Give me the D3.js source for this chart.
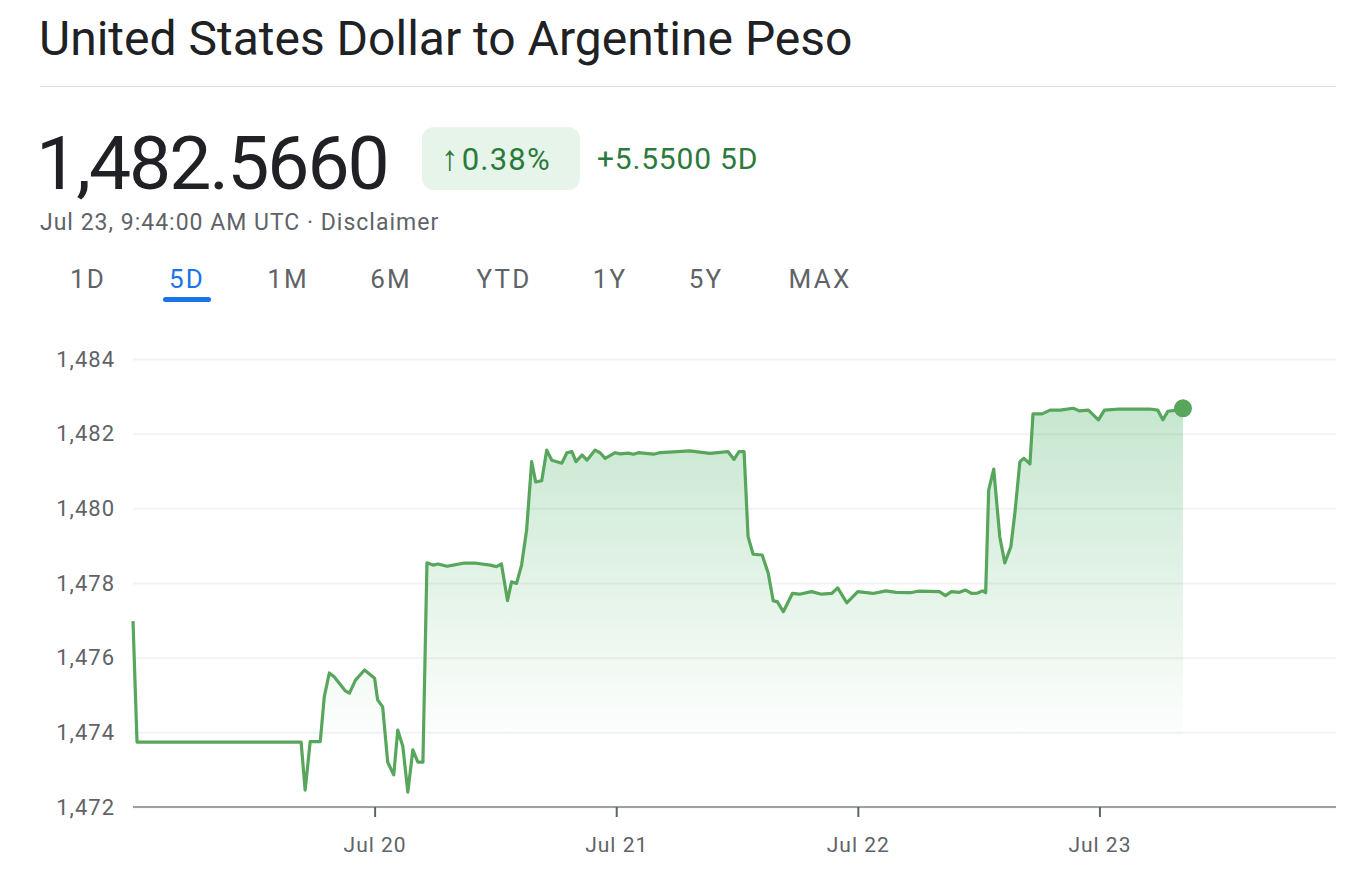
<html>
<head>
<meta charset="utf-8">
<script src="https://d3js.org/d3.v7.min.js"></script>
<style>
  body { margin: 0; background: #fff; font-family: Roboto, "Noto Sans", sans-serif; }
</style>
</head>
<body>
<svg width="1348" height="892"></svg>
<script>
// hours after Jul 19 00:00 UTC
const hours = [0, 0.4, 16.7, 17.1, 17.6, 18.6, 19.0, 19.5, 20.0, 21.1, 21.5, 22.1, 23.0, 24.0, 24.3, 24.8,
  25.3, 25.9, 26.3, 26.8, 27.3, 27.8, 28.3, 28.8, 29.2, 29.8, 30.3, 31.2, 31.8, 32.8, 34.1, 35.5, 36.1,
  36.6, 37.2, 37.6, 38.1, 38.6, 39.1, 39.6, 40.0, 40.6, 41.1, 41.6, 42.6, 43.1, 43.6, 44.0, 44.6, 45.1,
  45.9, 46.4, 46.9, 47.9, 48.4, 49.2, 49.7, 50.2, 51.7, 52.3, 53.7, 55.3, 57.3, 59.1, 59.7, 60.2, 60.7,
  61.1, 61.6, 62.5, 63.1, 63.6, 64.0, 64.6, 65.5, 66.2, 67.4, 68.4, 69.4, 70.0, 70.9, 72.0, 73.5, 74.8,
  75.8, 77.2, 78.0, 80.1, 80.7, 81.3, 82.1, 82.7, 83.3, 83.9, 84.4, 84.7, 85.0, 85.5, 86.1, 86.6, 87.2,
  87.6, 88.1, 88.5, 89.1, 89.4, 90.3, 91.1, 92.1, 93.4, 94.0, 94.9, 95.9, 96.5, 98.0, 99.7, 101.0, 101.8,
  102.3, 102.8, 103.7, 104.3];
const rates = [1476.98, 1473.74, 1473.74, 1472.45, 1473.75, 1473.75, 1474.95, 1475.59, 1475.48, 1475.11,
  1475.05, 1475.40, 1475.67, 1475.45, 1474.87, 1474.68, 1473.20, 1472.86, 1474.06, 1473.63, 1472.40,
  1473.53, 1473.20, 1473.20, 1478.54, 1478.48, 1478.51, 1478.45, 1478.48, 1478.53, 1478.53, 1478.48,
  1478.44, 1478.51, 1477.53, 1478.03, 1477.99, 1478.48, 1479.42, 1481.25, 1480.71, 1480.74, 1481.56,
  1481.29, 1481.21, 1481.49, 1481.52, 1481.25, 1481.43, 1481.29, 1481.56, 1481.49, 1481.34, 1481.49,
  1481.46, 1481.48, 1481.45, 1481.49, 1481.45, 1481.49, 1481.51, 1481.54, 1481.47, 1481.52, 1481.31,
  1481.52, 1481.52, 1479.24, 1478.77, 1478.75, 1478.26, 1477.52, 1477.50, 1477.23, 1477.72, 1477.70,
  1477.77, 1477.70, 1477.72, 1477.87, 1477.47, 1477.77, 1477.72, 1477.79, 1477.75, 1477.74, 1477.78,
  1477.77, 1477.66, 1477.77, 1477.75, 1477.81, 1477.72, 1477.73, 1477.79, 1477.74, 1480.49, 1481.05,
  1479.24, 1478.54, 1478.97, 1479.87, 1481.25, 1481.34, 1481.19, 1482.53, 1482.53, 1482.63, 1482.63,
  1482.68, 1482.61, 1482.63, 1482.37, 1482.63, 1482.66, 1482.66, 1482.66, 1482.63, 1482.37, 1482.60,
  1482.63, 1482.68];
const yTicks = [1472, 1474, 1476, 1478, 1480, 1482, 1484];
const dayTicks = ["2025-07-20", "2025-07-21", "2025-07-22", "2025-07-23"];
const tabs = ["1D", "5D", "1M", "6M", "YTD", "1Y", "5Y", "MAX"];
const tabX = [88, 187, 288, 391, 504, 610, 706, 820];

const t0 = Date.UTC(2025, 6, 19);
const data = hours.map((h, i) => ({ t: new Date(t0 + h * 3600e3), v: rates[i] }));

const svg = d3.select("svg");
const green = "#58a65c";

// header
svg.append("text").attr("x", 39).attr("y", 55).attr("font-size", 48).attr("fill", "#202124")
  .text("United States Dollar to Argentine Peso");
svg.append("line").attr("x1", 40).attr("x2", 1336).attr("y1", 86.5).attr("y2", 86.5)
  .attr("stroke", "#dadce0").attr("stroke-width", 1);
svg.append("text").attr("x", 36).attr("y", 189).attr("font-size", 75).attr("fill", "#202124")
  .attr("letter-spacing", -2).text("1,482.5660");
svg.append("rect").attr("x", 422).attr("y", 127).attr("width", 158).attr("height", 63).attr("rx", 12)
  .attr("fill", "#e6f4ea");
const pill = svg.append("text").attr("x", 441).attr("y", 170).attr("font-size", 31)
  .attr("letter-spacing", 1.2).attr("fill", "#2b7a3b");
pill.append("tspan").attr("font-size", 35).attr("font-weight", 300).text("\u2191");
pill.append("tspan").attr("dx", 2).text("0.38%");
svg.append("text").attr("x", 597).attr("y", 169).attr("font-size", 30).attr("letter-spacing", 0.8)
  .attr("fill", "#2b7a3b").text("+5.5500 5D");
svg.append("text").attr("x", 40).attr("y", 230).attr("font-size", 23).attr("letter-spacing", 1)
  .attr("fill", "#5f6368").text("Jul 23, 9:44:00 AM UTC \u00b7 Disclaimer");

svg.append("g").selectAll("text").data(tabs).join("text")
  .attr("x", (d, i) => tabX[i]).attr("y", 288).attr("text-anchor", "middle").attr("font-size", 26)
  .attr("letter-spacing", 2.2)
  .attr("fill", d => d === "5D" ? "#1a73e8" : "#5f6368").text(d => d);
svg.append("rect").attr("x", 163).attr("y", 297).attr("width", 48).attr("height", 5).attr("rx", 2.5)
  .attr("fill", "#1a73e8");

// chart
const x = d3.scaleTime().domain([new Date(t0), new Date(t0 + 119.5 * 3600e3)]).range([133, 1336]);
const y = d3.scaleLinear().domain([1472, 1484]).range([807, 359]);

svg.append("g").attr("transform", "translate(133,0)")
  .call(d3.axisLeft(y).tickValues(yTicks).tickSize(-1203).tickFormat(d3.format(",")))
  .call(g => g.select(".domain").remove())
  .call(g => g.selectAll(".tick line").attr("stroke", "#f1f3f4").attr("stroke-width", 2))
  .call(g => g.selectAll(".tick text").attr("x", -18).attr("font-size", 22).attr("letter-spacing", 1)
    .attr("fill", "#5f6368").attr("font-family", "Roboto"));

const defs = svg.append("defs");
const grad = defs.append("linearGradient").attr("id", "fade").attr("x1", 0).attr("x2", 0).attr("y1", 0).attr("y2", 1);
grad.append("stop").attr("offset", "0%").attr("stop-color", "#34a853").attr("stop-opacity", 0.28);
grad.append("stop").attr("offset", "85%").attr("stop-color", "#34a853").attr("stop-opacity", 0.0);

svg.append("path").datum(data).attr("fill", "url(#fade)")
  .attr("d", d3.area().x(d => x(d.t)).y0(y(1472)).y1(d => y(d.v)));

svg.append("path").datum(data).attr("fill", "none").attr("stroke", green).attr("stroke-width", 3.2)
  .attr("stroke-linejoin", "round")
  .attr("d", d3.line().x(d => x(d.t)).y(d => y(d.v)));

svg.append("g").attr("transform", "translate(0,807)")
  .call(d3.axisBottom(x).tickValues(dayTicks.map(s => new Date(s + "T00:00:00Z")))
    .tickSize(10).tickPadding(20).tickFormat(d3.utcFormat("%b %-d")))
  .call(g => g.select(".domain").attr("stroke", "#9aa0a6").attr("stroke-width", 2).attr("d", "M133,0H1336"))
  .call(g => g.selectAll(".tick line").attr("stroke", "#5f6368").attr("stroke-width", 2))
  .call(g => g.selectAll(".tick text").attr("font-size", 21).attr("letter-spacing", 1)
    .attr("fill", "#5f6368").attr("font-family", "Roboto"));

const last = data[data.length - 1];
svg.append("circle").attr("cx", x(last.t)).attr("cy", y(last.v)).attr("r", 9).attr("fill", green);
</script>
</body>
</html>
